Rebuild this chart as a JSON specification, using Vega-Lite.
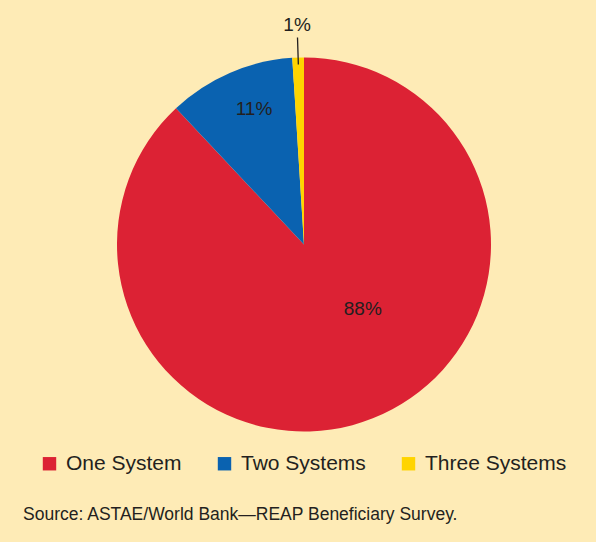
{
  "$schema": "https://vega.github.io/schema/vega-lite/v6.json",
  "autosize": "none",
  "width": 584,
  "height": 489,
  "padding": {"left": 12, "top": 0, "right": 0, "bottom": 53},
  "background": "#FEEBB6",
  "data": {"values": [
    {"system": "One System", "share": 88, "label": "88%", "idx": 1},
    {"system": "Two Systems", "share": 11, "label": "11%", "idx": 2},
    {"system": "Three Systems", "share": 1, "label": "1%", "idx": 3}
  ]},
  "title": {
    "text": "Source: ASTAE/World Bank—REAP Beneficiary Survey.",
    "orient": "bottom",
    "anchor": "start",
    "frame": "group",
    "offset": 17,
    "dx": 11,
    "font": "Liberation Sans",
    "fontSize": 17.5,
    "fontWeight": "normal",
    "color": "#231F20"
  },
  "layer": [
    {
      "mark": {"type": "arc", "outerRadius": 187, "stroke": null},
      "encoding": {
        "theta": {"field": "share", "type": "quantitative", "stack": true},
        "order": {"field": "idx", "type": "quantitative"},
        "color": {
          "field": "system",
          "type": "nominal",
          "scale": {"domain": ["One System", "Two Systems", "Three Systems"], "range": ["#DC2234", "#0A62B0", "#FFD400"]},
          "legend": {
            "title": null,
            "orient": "none",
            "legendX": 27,
            "legendY": 453,
            "direction": "horizontal",
            "symbolType": "square",
            "symbolSize": 180,
            "symbolStrokeWidth": 0,
            "labelFont": "Liberation Sans",
            "labelFontSize": 21,
            "labelColor": "#231F20",
            "labelOffset": 6,
            "labelLimit": 400,
            "columnPadding": 32,
            "padding": 0
          }
        }
      }
    },
    {
      "mark": {"type": "arc", "innerRadius": 180, "outerRadius": 207, "padAngle": 0.12, "fill": null, "stroke": "#231F20", "strokeWidth": 1.3},
      "encoding": {
        "theta": {"field": "share", "type": "quantitative", "stack": true},
        "order": {"field": "idx", "type": "quantitative"},
        "detail": {"field": "system", "type": "nominal"},
        "strokeOpacity": {"condition": {"test": "datum.system === 'Three Systems'", "value": 1}, "value": 0}
      }
    },
    {
      "mark": {"type": "text", "radius": 87, "thetaOffset": -0.365, "font": "Liberation Sans", "fontSize": 19, "color": "#231F20"},
      "encoding": {
        "theta": {"field": "share", "type": "quantitative", "stack": true},
        "order": {"field": "idx", "type": "quantitative"},
        "detail": {"field": "system", "type": "nominal"},
        "text": {"condition": {"test": "datum.system === 'One System'", "field": "label"}, "value": ""}
      }
    },
    {
      "mark": {"type": "text", "radius": 144, "thetaOffset": 0.054, "font": "Liberation Sans", "fontSize": 19, "color": "#231F20"},
      "encoding": {
        "theta": {"field": "share", "type": "quantitative", "stack": true},
        "order": {"field": "idx", "type": "quantitative"},
        "detail": {"field": "system", "type": "nominal"},
        "text": {"condition": {"test": "datum.system === 'Two Systems'", "field": "label"}, "value": ""}
      }
    },
    {
      "mark": {"type": "text", "radius": 220, "font": "Liberation Sans", "fontSize": 19, "color": "#231F20"},
      "encoding": {
        "theta": {"field": "share", "type": "quantitative", "stack": true},
        "order": {"field": "idx", "type": "quantitative"},
        "detail": {"field": "system", "type": "nominal"},
        "text": {"condition": {"test": "datum.system === 'Three Systems'", "field": "label"}, "value": ""}
      }
    }
  ],
  "config": {"view": {"stroke": null}}
}
